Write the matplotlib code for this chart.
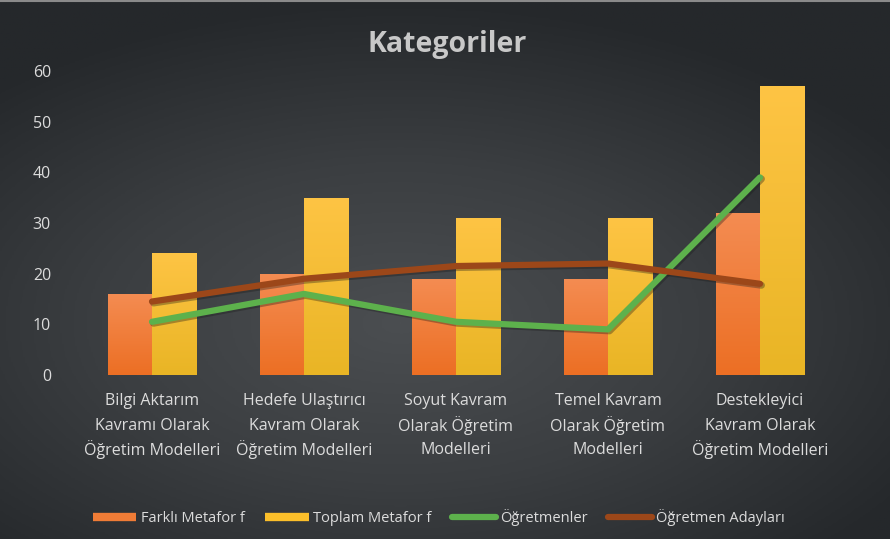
import numpy as np
import matplotlib
matplotlib.use("Agg")
import matplotlib.pyplot as plt
from matplotlib.lines import Line2D
from matplotlib.colors import LinearSegmentedColormap

plt.rcParams['font.family'] = ['Open Sans', 'DejaVu Sans']

categories = [["Bilgi Aktarım", "Kavramı Olarak", "Öğretim Modelleri"],
              ["Hedefe Ulaştırıcı", "Kavram Olarak", "Öğretim Modelleri"],
              ["Soyut Kavram", "Olarak Öğretim", "Modelleri"],
              ["Temel Kavram", "Olarak Öğretim", "Modelleri"],
              ["Destekleyici", "Kavram Olarak", "Öğretim Modelleri"]]
farkli = [16, 20, 19, 19, 32]
toplam = [24, 35, 31, 31, 57]
ogretmenler = [10.5, 16, 10.5, 9, 39]
adaylar = [14.5, 19, 21.5, 22, 18]

fig = plt.figure(figsize=(8.9, 5.39), dpi=100)

# dark radial background
bg = fig.add_axes([0, 0, 1, 1], zorder=-10)
yy, xx = np.mgrid[0:1:300j, 0:1:500j]
r = np.sqrt(((xx - 0.45) / 0.9) ** 2 + ((yy - 0.6) / 0.8) ** 2)
bg.imshow(r, cmap=LinearSegmentedColormap.from_list(
    "bgc", ["#4b4e51", "#3b3e41", "#25282b"]), vmin=0, vmax=0.75,
    aspect='auto', extent=[0, 1, 0, 1])
bg.plot([0, 1], [0.998, 0.998], color="#8a8a8a", lw=1.5)
bg.set_xlim(0, 1)
bg.set_ylim(0, 1)
bg.axis('off')

ax = fig.add_axes([76 / 890, 1 - 375 / 539, 760 / 890, 304 / 539])
ax.patch.set_alpha(0)
x = np.arange(len(categories))
w = 0.29
ax.set_xlim(-0.5, 4.5)
ax.set_ylim(0, 60)

grad = np.linspace(0, 1, 100).reshape(-1, 1)


def gradient_bars(bars, top, bottom):
    cmap = LinearSegmentedColormap.from_list("g", [bottom, top])
    for b in bars:
        x0, y0 = b.get_x(), b.get_y()
        im = ax.imshow(grad, cmap=cmap, origin='lower', aspect='auto',
                       extent=[x0, x0 + b.get_width(), y0, y0 + b.get_height()],
                       zorder=2)
        im.set_clip_path(b)
        b.set_alpha(0)


b1 = ax.bar(x - w / 2, farkli, w, color="#f07c36", zorder=2)
b2 = ax.bar(x + w / 2, toplam, w, color="#fcbf2a", zorder=2)
gradient_bars(b1, "#f48c52", "#ec6f24")
gradient_bars(b2, "#fec444", "#e9b525")
ax.set_xlim(-0.5, 4.5)
ax.set_ylim(0, 60)

for data, col in [(ogretmenler, "#5db14c"), (adaylar, "#9c4719")]:
    ax.plot(x, data, color="#1a1a1a", lw=5, alpha=0.35, zorder=3,
            solid_capstyle='round', transform=ax.transData +
            matplotlib.transforms.ScaledTranslation(1.5 / 100, -1.5 / 100, fig.dpi_scale_trans))
    ax.plot(x, data, color=col, lw=4.5, zorder=4, solid_capstyle='round')

ax.set_yticks(range(0, 61, 10))
ax.set_xticks([])
ax.tick_params(axis='y', colors="#dcdcdc", labelsize=11.5, length=0, pad=18)
for s in ax.spines.values():
    s.set_visible(False)

trans = ax.get_xaxis_transform()
for i, lines in enumerate(categories):
    for j, ln in enumerate(lines):
        ax.text(x[i], 0, ln, transform=trans + matplotlib.transforms.ScaledTranslation(
            0, -(0.26 + j * 0.245), fig.dpi_scale_trans),
            ha='center', va='center', fontsize=11.5, color="#dcdcdc")

fig.text(0.502, 0.918, "Kategoriler", ha='center', va='center',
         fontsize=20.5, fontweight='bold', color="#c8c8c8")

handles = [Line2D([], [], color="#f07c36", lw=6, solid_capstyle='butt'),
           Line2D([], [], color="#fcbf2a", lw=6, solid_capstyle='butt'),
           Line2D([], [], color="#5db14c", lw=4.5, solid_capstyle='round'),
           Line2D([], [], color="#9c4719", lw=4.5, solid_capstyle='round')]
labels = ["Farklı Metafor f", "Toplam Metafor f", "Öğretmenler", "Öğretmen Adayları"]
fig.legend(handles, labels, loc='center', bbox_to_anchor=(0.493, 0.04), ncol=4,
           frameon=False, fontsize=10.5, labelcolor="#dcdcdc", handlelength=3.0,
           handletextpad=0.3, columnspacing=1.4)

fig.savefig("out.png", dpi=100, facecolor="#3a3d40")
